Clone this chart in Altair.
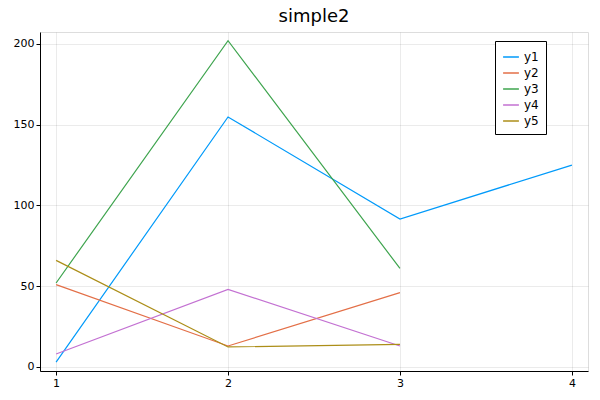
import altair as alt
import pandas as pd

xs = [1, 2, 3, 4]
y1 = [3, 154.8, 91.6, 125]
y2 = [51, 13, 46]
y3 = [52, 202, 61]
y4 = [8, 48, 13]
y5 = [66, 12.4, 14]
names = ["y1", "y2", "y3", "y4", "y5"]
colors = ["#009afa", "#e36f47", "#3ea44e", "#c371d2", "#ac8e18"]

rows = []
for n, ys in zip(names, [y1, y2, y3, y4, y5]):
    for x, y in zip(xs, ys):
        rows.append({"x": x, "y": y, "s": n})
df = pd.DataFrame(rows)

chart = alt.Chart(df).mark_line(strokeWidth=1.2, clip=True).encode(
    x=alt.X("x:Q", scale=alt.Scale(domain=[0.9064, 4.0936], nice=False, zero=False),
            axis=alt.Axis(values=[1, 2, 3, 4], title=None, format="d", tickSize=4,
                          labelFontSize=11, labelColor="black", domainColor="black",
                          gridColor="#000", gridOpacity=0.08, tickColor="black")),
    y=alt.Y("y:Q", scale=alt.Scale(domain=[-2.5, 207.4], nice=False, zero=False),
            axis=alt.Axis(values=[0, 50, 100, 150, 200], title=None, tickSize=4,
                          labelFontSize=11, labelColor="black", domainColor="black",
                          gridColor="#000", gridOpacity=0.08, tickColor="black")),
    color=alt.Color("s:N", scale=alt.Scale(domain=names, range=colors),
                    legend=alt.Legend(title=None, orient="none", legendX=455, legendY=9,
                                      symbolType="stroke", symbolStrokeWidth=1.5, symbolSize=250,
                                      strokeColor="black", padding=7, fillColor="white",
                                      labelFontSize=12, rowPadding=1)),
).properties(
    width=548, height=339,
    title=alt.TitleParams("simple2", fontSize=18, fontWeight="normal", anchor="middle", offset=6),
    autosize=alt.AutoSizeParams(type="none"),
    padding={"left": 32, "top": 24, "right": 4, "bottom": 21},
).configure_view(stroke=None).configure(font="DejaVu Sans")

chart.save("out.html", embed_options={"renderer": "svg", "actions": False})
